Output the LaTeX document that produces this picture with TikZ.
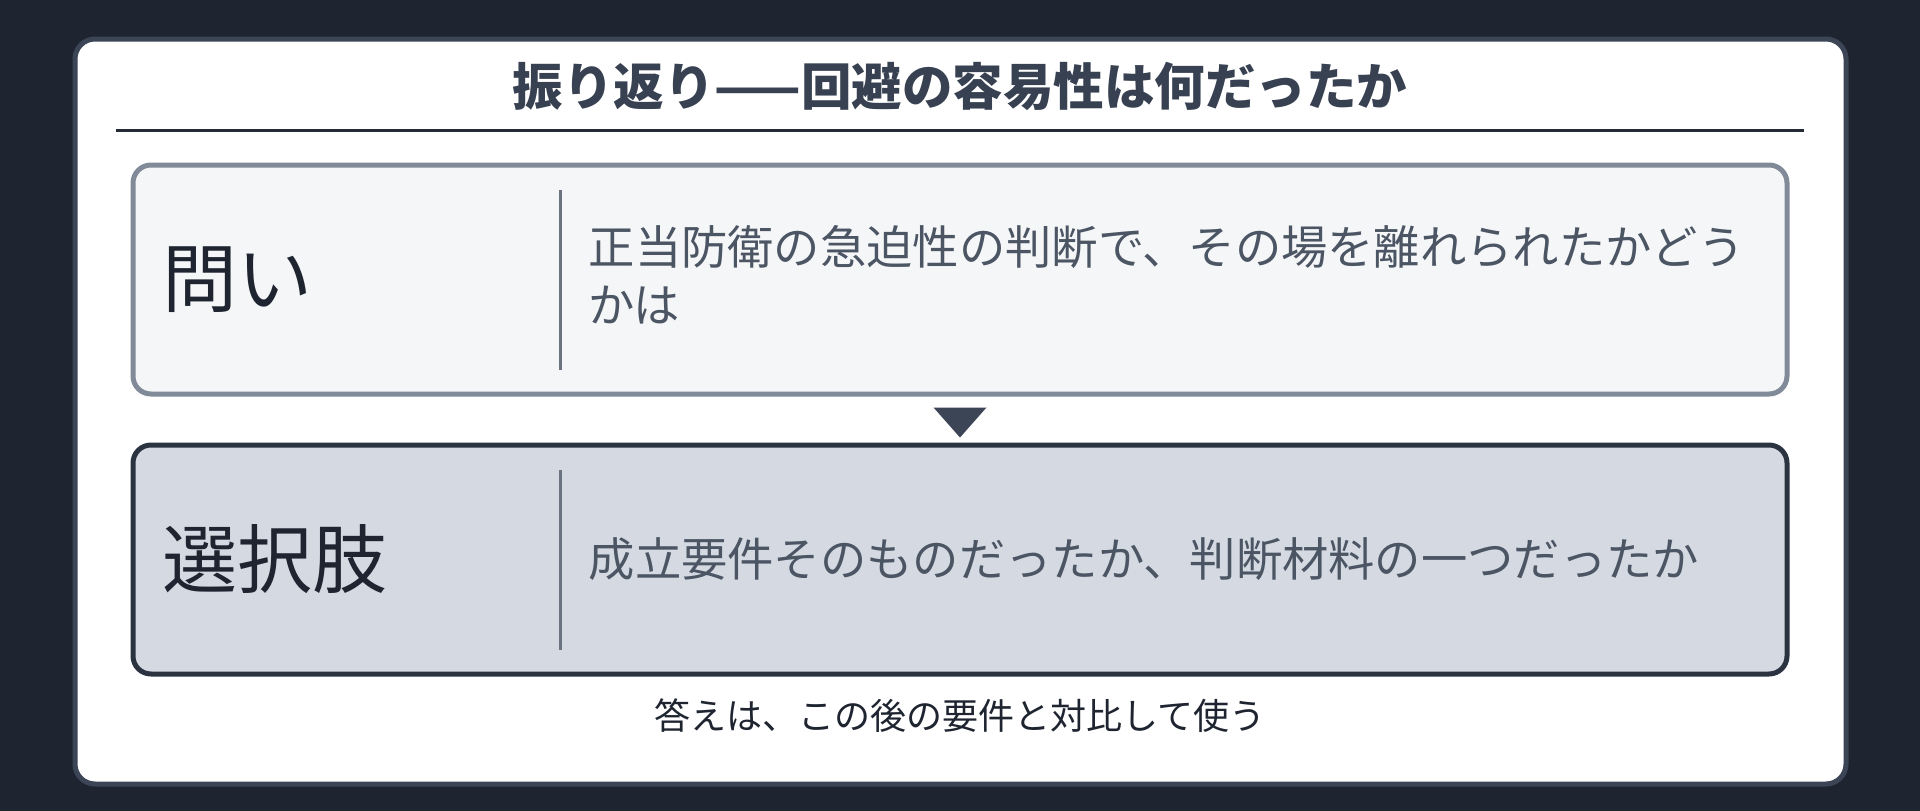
\documentclass[tikz,border=0pt]{standalone}
\usepackage{fontspec}
\setmainfont{Noto Sans CJK JP}
\usetikzlibrary{calc,positioning}

\definecolor{bgdark}{HTML}{1F2530}
\definecolor{panelline}{HTML}{3B4556}
\definecolor{titlegray}{HTML}{374151}
\definecolor{ruledark}{HTML}{252B36}
\definecolor{qfill}{HTML}{F5F6F8}
\definecolor{qline}{HTML}{808A98}
\definecolor{cfill}{HTML}{D5DAE2}
\definecolor{cline}{HTML}{2B3341}
\definecolor{divgray}{HTML}{6B7280}
\definecolor{bodygray}{HTML}{4B5563}
\definecolor{labeldark}{HTML}{1E2430}

\begin{document}
\begin{tikzpicture}[x=1pt, y=-1pt,
    rowbox/.style={rounded corners=18pt, line width=5pt, minimum width=1654pt,
        minimum height=229pt, inner sep=0pt},
    rowlabel/.style={anchor=west, inner sep=0pt, text=labeldark,
        font=\fontsize{75}{82}\selectfont},
    rowtext/.style={anchor=west, inner sep=0pt, text=bodygray, align=left,
        font=\fontsize{46.3}{58}\selectfont},
    divider/.style={divgray, line width=2.5pt}]
    \useasboundingbox (0,0) rectangle (1920,811);
    \fill[bgdark] (0,0) rectangle (1920,811);

    % Panel
    \draw[panelline, fill=white, line width=5pt, rounded corners=20pt] (75,39) rectangle (1846,784);

    % Title
    \node[text=titlegray, font=\fontsize{50.5}{56}\selectfont\bfseries] (title) at (960,86) {振り返り——回避の容易性は何だったか};
    \draw[ruledark, line width=3pt] (116,130) coordinate (rl) -- (1804,130) coordinate (rr);

    % Question
    \node[rowbox, draw=qline, fill=qfill] (q) at (960,279.5) {};
    \node[rowlabel] (qlabel) at ([xshift=32pt]q.west) {問い};
    \draw[divider] ($(q.north west)+(430,27)$) -- ($(q.south west)+(430,-27)$);
    \node[rowtext] (qtext) at ([xshift=458pt, yshift=5pt]q.west) {正当防衛の急迫性の判断で、その場を離れられたかどう\\かは};

    % Marker
    \fill[panelline] ($(q.south)+(-26.5,11)$) -- ++(53,0) -- ++(-26.5,30) -- cycle;

    % Choices
    \node[rowbox, draw=cline, fill=cfill] (c) at (960,559.5) {};
    \node[rowlabel] (clabel) at ([xshift=32pt]c.west) {選択肢};
    \draw[divider] ($(c.north west)+(430,27)$) -- ($(c.south west)+(430,-27)$);
    \node[rowtext] (ctext) at ([xshift=458pt]c.west) {成立要件そのものだったか、判断材料の一つだったか};

    % Footer
    \node[text=labeldark, font=\fontsize{36}{40}\selectfont] (note) at (960,716) {答えは、この後の要件と対比して使う};
\end{tikzpicture}
\end{document}
